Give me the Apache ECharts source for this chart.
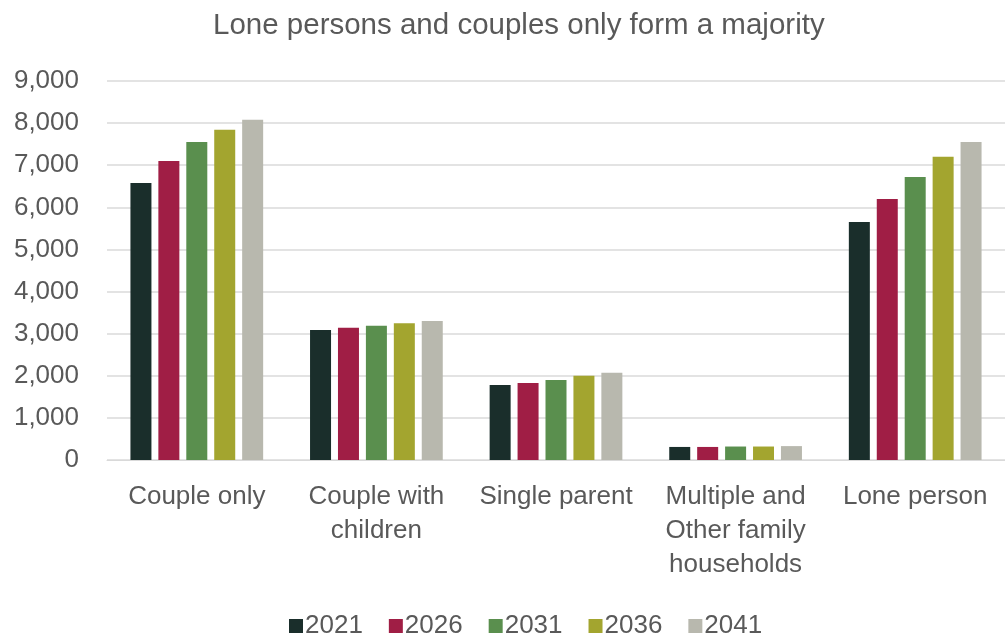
<!DOCTYPE html>
<html><head><meta charset="utf-8">
<script src="https://cdn.jsdelivr.net/npm/echarts@6/dist/echarts.min.js"></script>
<style>html,body{margin:0;padding:0;background:#fff}#c{width:1005px;height:644px}</style>
</head><body><div id="c"></div>
<script>
const categories = ['Couple only', 'Couple with\nchildren', 'Single parent', 'Multiple and\nOther family\nhouseholds', 'Lone person'];
const years = ['2021', '2026', '2031', '2036', '2041'];
const s2021 = [6580, 3090, 1780, 310, 5650];
const s2026 = [7100, 3140, 1830, 310, 6200];
const s2031 = [7550, 3190, 1900, 320, 6720];
const s2036 = [7840, 3250, 2000, 320, 7200];
const s2041 = [8080, 3300, 2070, 330, 7550];
const yTicks = [0, 1000, 2000, 3000, 4000, 5000, 6000, 7000, 8000, 9000];
const colors = ['#1a2e2b', '#a01e45', '#5a8f4e', '#a3a52f', '#b8b8ae'];
const seriesData = [s2021, s2026, s2031, s2036, s2041];

const chart = echarts.init(document.getElementById('c'));
chart.setOption({
  animation: false,
  textStyle: { fontFamily: 'Liberation Sans, Arial, sans-serif' },
  title: {
    text: 'Lone persons and couples only form a majority',
    left: 208, top: 6,
    textStyle: { fontSize: 29.5, fontWeight: 'normal', color: '#595959' }
  },
  legend: {
    data: years, bottom: 0, left: 284,
    itemWidth: 14, itemHeight: 14, itemGap: 26, icon: 'rect',
    textStyle: { fontSize: 26, color: '#595959', padding: [0, 0, 0, -3] }
  },
  grid: { left: 107, right: -7, top: 81, bottom: 184 },
  xAxis: {
    type: 'category', data: categories,
    axisLine: { show: true, lineStyle: { color: '#d9d9d9', width: 1 } },
    axisTick: { show: false },
    axisLabel: { fontSize: 26, color: '#595959', lineHeight: 34, margin: 20, interval: 0 }
  },
  yAxis: {
    type: 'value', min: 0, max: 9000, interval: 1000,
    axisLine: { show: false }, axisTick: { show: false },
    splitLine: { lineStyle: { color: '#e3e3e3', width: 2 } },
    axisLabel: {
      fontSize: 26, color: '#595959', margin: 28,
      formatter: v => yTicks.includes(v) ? v.toLocaleString('en-US') : ''
    }
  },
  series: years.map((y, i) => ({
    name: y, type: 'bar', data: seriesData[i],
    itemStyle: { color: colors[i] },
    barWidth: 21, barGap: '33%'
  }))
});
</script></body></html>
